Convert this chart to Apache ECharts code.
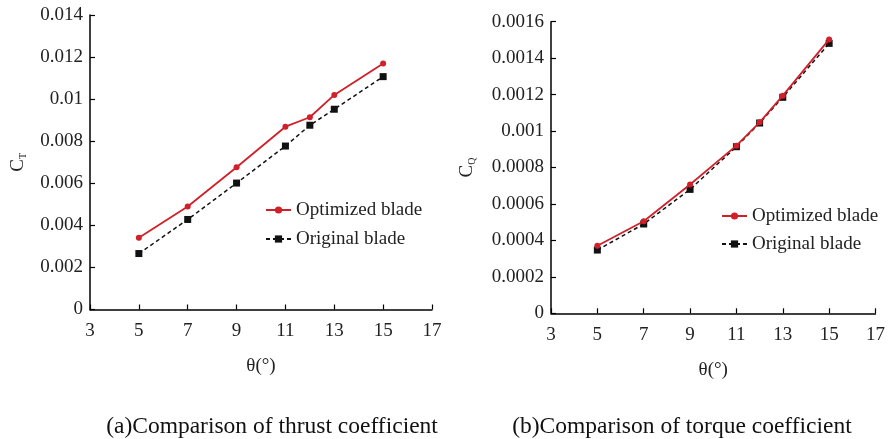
<!DOCTYPE html>
<html>
<head>
<meta charset="utf-8">
<script src="https://cdn.jsdelivr.net/npm/echarts@6/dist/echarts.min.js"></script>
<style>
html,body{margin:0;padding:0;background:#fff;}
#main{width:888px;height:439px;}
</style>
</head>
<body>
<div id="main"></div>
<script>
// ---- data ----
var theta = [5, 7, 9, 11, 12, 13, 15];
var ctOptimized = [0.00341, 0.00490, 0.00676, 0.00869, 0.00914, 0.01020, 0.01170];
var ctOriginal  = [0.00266, 0.00428, 0.00601, 0.00777, 0.00876, 0.00952, 0.01107];
var cqOptimized = [0.000371, 0.000505, 0.000707, 0.000920, 0.001048, 0.001194, 0.001503];
var cqOriginal  = [0.000347, 0.000490, 0.000680, 0.000914, 0.001044, 0.001185, 0.001481];
var xTicks = [3, 5, 7, 9, 11, 13, 15, 17];
var ctTicks = [0, 0.002, 0.004, 0.006, 0.008, 0.01, 0.012, 0.014];
var cqTicks = [0, 0.0002, 0.0004, 0.0006, 0.0008, 0.001, 0.0012, 0.0014, 0.0016];
var seriesNames = ['Optimized blade', 'Original blade'];
var captions = ['(a)Comparison of thrust coefficient', '(b)Comparison of torque coefficient'];
var xName = 'θ(°)';

var FONT = "'Liberation Serif','Times New Roman',serif";
var RED = '#d0202a';
var BLK = '#111';

function pairs(xs, ys){ return xs.map(function(x,i){ return [x, ys[i]]; }); }
function fmt(v){ return String(parseFloat(v.toFixed(6))); }

function xAxis(gi){
  return {
    type:'value', gridIndex:gi,
    min:xTicks[0], max:xTicks[xTicks.length-1], interval:xTicks[1]-xTicks[0],
    name:xName, nameLocation:'middle', nameGap:47,
    nameTextStyle:{fontFamily:FONT, fontSize:19, color:'#222'},
    axisLine:{lineStyle:{color:'#000', width:1.5}},
    axisTick:{inside:true, length:5, lineStyle:{color:'#000', width:1.2}},
    axisLabel:{fontFamily:FONT, fontSize:19, color:'#222', margin:12},
    splitLine:{show:false}
  };
}
function yAxis(gi, ticks, richName, gap){
  return {
    type:'value', gridIndex:gi,
    min:ticks[0], max:ticks[ticks.length-1], interval:ticks[1]-ticks[0],
    name:richName, nameLocation:'middle', nameGap:gap, nameRotate:90,
    nameTextStyle:{fontFamily:FONT, color:'#222',
      rich:{ c:{fontFamily:FONT, fontSize:19, color:'#222'},
             s:{fontFamily:FONT, fontSize:10, color:'#222', verticalAlign:'bottom', padding:[8,0,0,0]} }},
    axisLine:{show:true, lineStyle:{color:'#000', width:1.5}},
    axisTick:{show:true, inside:true, length:5, lineStyle:{color:'#000', width:1.2}},
    axisLabel:{fontFamily:FONT, fontSize:19, color:'#222', margin:7, formatter:fmt},
    splitLine:{show:false}
  };
}
function lineSeries(name, gi, data, isOpt){
  return {
    type:'line', name:name, xAxisIndex:gi, yAxisIndex:gi, data:data,
    symbol: isOpt ? 'circle' : 'rect',
    symbolSize: isOpt ? 6 : 7,
    showSymbol:true,
    itemStyle:{color: isOpt ? RED : BLK},
    lineStyle:{color: isOpt ? RED : BLK, width: isOpt ? 1.8 : 1.5, type: isOpt ? 'solid' : [4,3]},
    animation:false, z: isOpt ? 3 : 2
  };
}

var chart = echarts.init(document.getElementById('main'), null, {renderer:'canvas'});
chart.setOption({
  backgroundColor:'#fff',
  animation:false,
  grid:[
    {left:90, right:456, top:15, bottom:129.5, containLabel:false},
    {left:551, right:9, top:21.7, bottom:125.7, containLabel:false}
  ],
  xAxis:[xAxis(0), xAxis(1)],
  yAxis:[yAxis(0, ctTicks, '{c|C}{s|T}', 62), yAxis(1, cqTicks, '{c|C}{s|Q}', 74)],
  legend:[
    {orient:'vertical', left:260, top:195, itemWidth:25, itemHeight:9, itemGap:9,
     data:seriesNames, textStyle:{fontFamily:FONT, fontSize:19, color:'#222', lineHeight:20}},
    {orient:'vertical', left:716, top:201, itemWidth:25, itemHeight:9, itemGap:8,
     data:seriesNames, textStyle:{fontFamily:FONT, fontSize:19, color:'#222', lineHeight:20}}
  ],
  title:[
    {text:captions[0], left:267, top:410, textAlign:'center',
     textStyle:{fontFamily:FONT, fontSize:23.5, fontWeight:'normal', color:'#111'}},
    {text:captions[1], left:677, top:410, textAlign:'center',
     textStyle:{fontFamily:FONT, fontSize:23.5, fontWeight:'normal', color:'#111'}}
  ],
  series:[
    lineSeries(seriesNames[1], 0, pairs(theta, ctOriginal), false),
    lineSeries(seriesNames[0], 0, pairs(theta, ctOptimized), true),
    lineSeries(seriesNames[1], 1, pairs(theta, cqOriginal), false),
    lineSeries(seriesNames[0], 1, pairs(theta, cqOptimized), true)
  ]
});
</script>
</body>
</html>
